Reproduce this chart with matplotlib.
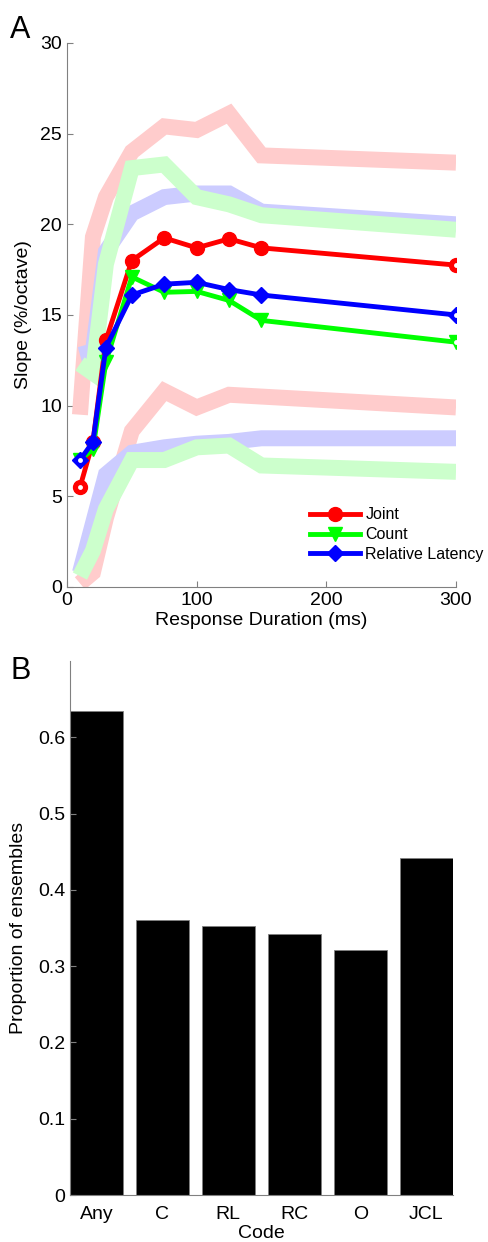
import matplotlib
matplotlib.use('Agg')
import matplotlib.pyplot as plt

plt.rcParams['font.family'] = ['Liberation Sans', 'DejaVu Sans']

# panel A data
durations = [10, 20, 30, 50, 75, 100, 125, 150, 300]
joint = [5.5, 8.0, 13.6, 18.0, 19.25, 18.7, 19.2, 18.7, 17.75]
count = [7.0, 7.6, 12.4, 17.1, 16.25, 16.3, 15.8, 14.7, 13.5]
rel_latency = [7.0, 8.0, 13.2, 16.1, 16.7, 16.8, 16.4, 16.1, 15.0]

joint_hi = [9.5, 19.3, 21.5, 24.0, 25.4, 25.2, 26.1, 23.8, 23.4]
joint_lo = [0.2, 0.8, 3.8, 8.6, 10.8, 9.9, 10.6, 10.5, 9.9]
count_hi = [12.3, 11.8, 17.8, 23.1, 23.3, 21.5, 21.1, 20.5, 19.7]
count_lo = [0.6, 2.0, 4.3, 7.0, 7.0, 7.7, 7.8, 6.7, 6.35]
latency_hi = [12.8, 13.0, 18.5, 20.6, 21.5, 21.7, 21.7, 20.7, 20.0]
latency_lo = [0.8, 3.5, 6.2, 7.4, 7.7, 7.9, 8.0, 8.2, 8.2]

# panel B data
codes = ['Any', 'C', 'RL', 'RC', 'O', 'JCL']
proportions = [0.635, 0.36, 0.353, 0.342, 0.321, 0.442]

fig = plt.figure(figsize=(4.89, 12.42), dpi=100)
grey = '#808080'

axA = fig.add_axes([0.137, 0.5274, 0.7955, 0.438])
band_lw = 11.5
for hi, lo, c in [(joint_hi, joint_lo, (1, 0.8, 0.8)),
                  (latency_hi, latency_lo, (0.8, 0.8, 1)),
                  (count_hi, count_lo, (0.8, 1, 0.8))]:
    axA.plot(durations, hi, color=c, lw=band_lw, solid_capstyle='butt', solid_joinstyle='miter')
    axA.plot(durations, lo, color=c, lw=band_lw, solid_capstyle='butt', solid_joinstyle='miter')

for y, m, c, ms, lab in [(joint, 'o', 'red', 10, 'Joint'),
                         (count, 'v', '#00ff00', 10, 'Count'),
                         (rel_latency, 'D', 'blue', 8, 'Relative Latency')]:
    axA.plot(durations, y, '-' + m, color=c, lw=3.5, ms=ms, label=lab)
    # end markers have a small white centre in the original
    axA.plot(durations, y, 'o', ls='none', mfc='white', mec='none', ms=3.5,
             markevery=[0, len(durations) - 1])

axA.set_xlim(0, 300)
axA.set_ylim(0, 30)
axA.set_xticks([0, 100, 200, 300])
axA.set_yticks([0, 5, 10, 15, 20, 25, 30])
axA.set_xlabel('Response Duration (ms)', fontsize=14, labelpad=2)
axA.set_ylabel('Slope (%/octave)', fontsize=14, labelpad=6)
axA.legend(loc='center left', bbox_to_anchor=(0.625, 0.096), frameon=False,
           fontsize=11.5, handlelength=3.1, handletextpad=0.35, borderpad=0,
           borderaxespad=0, labelspacing=0.3)
fig.text(0.02, 0.988, 'A', fontsize=22, va='top')

axB = fig.add_axes([0.143, 0.0378, 0.783, 0.430])
axB.bar(range(len(codes)), proportions, width=0.8, color='black', edgecolor=grey, linewidth=0.6)
axB.set_xlim(-0.4, 5.4)
axB.set_ylim(0, 0.7)
axB.set_xticks(range(len(codes)))
axB.set_xticklabels(codes)
axB.set_yticks([0, 0.1, 0.2, 0.3, 0.4, 0.5, 0.6])
axB.set_yticklabels(['0', '0.1', '0.2', '0.3', '0.4', '0.5', '0.6'])
axB.set_xlabel('Code', fontsize=14, labelpad=1)
axB.set_ylabel('Proportion of ensembles', fontsize=14, labelpad=8)
fig.text(0.022, 0.472, 'B', fontsize=22, va='top')

for ax in (axA, axB):
    for s in ('top', 'right'):
        ax.spines[s].set_visible(False)
    for s in ('left', 'bottom'):
        ax.spines[s].set_color(grey)
        ax.spines[s].set_linewidth(0.8)
    ax.tick_params(direction='in', length=4, color=grey, labelsize=14)
axB.tick_params(axis='x', length=0, pad=8)

fig.savefig('out.png', dpi=100)
